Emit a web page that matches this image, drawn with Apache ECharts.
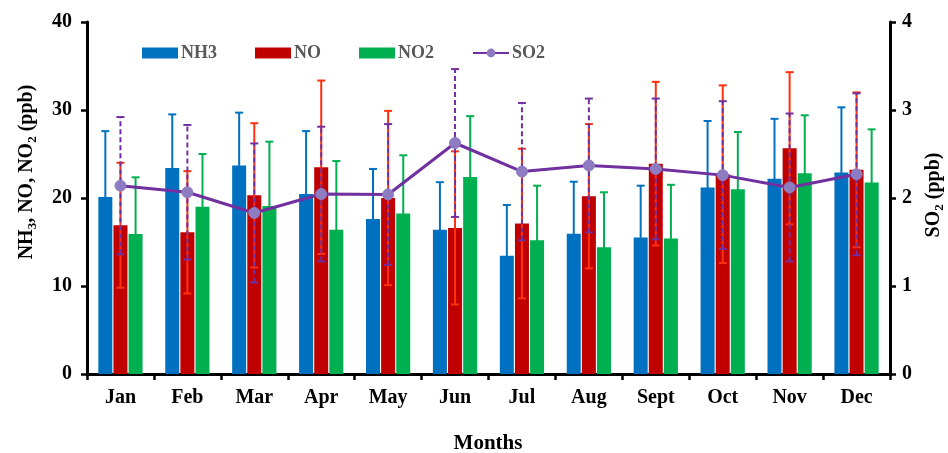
<!DOCTYPE html>
<html>
<head>
<meta charset="utf-8">
<script src="https://cdn.jsdelivr.net/npm/echarts@6/dist/echarts.min.js"></script>
<style>
html,body{margin:0;padding:0;background:#fff;}
#chart{width:948px;height:453px;}
</style>
</head>
<body>
<div id="chart"></div>
<script>
var months = ['Jan','Feb','Mar','Apr','May','Jun','Jul','Aug','Sept','Oct','Nov','Dec'];
var nh3 = [20.1, 23.4, 23.7, 20.45, 17.6, 16.4, 13.45, 15.95, 15.5, 21.2, 22.2, 22.9];
var nh3Sd = [7.5, 6.1, 6.0, 7.15, 5.7, 5.4, 5.75, 5.9, 5.9, 7.55, 6.8, 7.4];
var no = [16.9, 16.1, 20.3, 23.5, 20.0, 16.6, 17.1, 20.2, 23.9, 22.7, 25.65, 23.2];
var noSd = [7.1, 6.95, 8.2, 9.85, 9.9, 8.7, 8.5, 8.2, 9.3, 10.1, 8.65, 8.8];
var no2 = [15.9, 19.0, 19.1, 16.4, 18.25, 22.4, 15.2, 14.4, 15.4, 21.0, 22.8, 21.75];
var no2Sd = [6.45, 6.0, 7.3, 7.8, 6.6, 6.9, 6.2, 6.25, 6.1, 6.5, 6.6, 6.05];
var so2 = [2.14, 2.065, 1.83, 2.045, 2.04, 2.625, 2.30, 2.37, 2.33, 2.26, 2.12, 2.27];
var so2Sd = [0.78, 0.765, 0.79, 0.765, 0.8, 0.84, 0.78, 0.76, 0.8, 0.84, 0.84, 0.92];
var leftTicks = [0, 10, 20, 30, 40];
var rightTicks = [0, 1, 2, 3, 4];

var FONT = '"Liberation Serif", "Times New Roman", serif';
var BAR_W = 14, GAP = 1.12;

function errSeries(name, means, sds, offset, color, yIdx, dashed) {
  return {
    type: 'custom',
    name: name + ' err',
    yAxisIndex: yIdx,
    z: dashed ? 12 : 10,
    silent: true,
    encode: {x: 0, y: [1, 2]},
    data: means.map(function (m, i) { return [i, m - sds[i], m + sds[i]]; }),
    renderItem: function (params, api) {
      var c = api.value(0);
      var x = api.coord([c, 0])[0] + offset;
      var lo = api.coord([c, api.value(1)])[1];
      var hi = api.coord([c, api.value(2)])[1];
      var cw = 4;
      var st = {stroke: color, lineWidth: 2};
      return {
        type: 'group',
        children: [
          {type: 'line', shape: {x1: x, y1: lo, x2: x, y2: hi},
           style: {stroke: color, lineWidth: 2, lineDash: dashed ? [5, 3] : null}},
          {type: 'line', shape: {x1: x - cw, y1: hi, x2: x + cw, y2: hi}, style: st},
          {type: 'line', shape: {x1: x - cw, y1: lo, x2: x + cw, y2: lo}, style: st}
        ]
      };
    }
  };
}

var chart = echarts.init(document.getElementById('chart'));
var option = {
  animation: false,
  backgroundColor: '#fff',
  textStyle: {fontFamily: FONT},
  grid: {left: 87, right: 58, top: 22, bottom: 79, containLabel: false},
  legend: {
    data: [{name: 'NH3', icon: 'rect'}, {name: 'NO', icon: 'rect'}, {name: 'NO2', icon: 'rect'}, {name: 'SO2'}],
    left: 137, top: 39,
    itemWidth: 36, itemHeight: 11, itemGap: 38,
    textStyle: {fontFamily: FONT, fontSize: 18, fontWeight: 'bold', color: '#595959', padding: [0, 0, 0, -2]}
  },
  xAxis: {
    type: 'category',
    data: months,
    boundaryGap: true,
    axisLine: {lineStyle: {color: '#000', width: 3}},
    axisTick: {show: true, length: 6, lineStyle: {color: '#000', width: 2.5}},
    axisLabel: {color: '#000', fontSize: 20, fontWeight: 'bold', fontFamily: FONT, margin: 14, interval: 0},
    splitLine: {show: false}
  },
  yAxis: [{
    type: 'value', min: leftTicks[0], max: leftTicks[leftTicks.length - 1], interval: 10,
    axisLine: {show: true, lineStyle: {color: '#000', width: 3}},
    axisTick: {show: true, length: 6, lineStyle: {color: '#000', width: 2.5}},
    axisLabel: {color: '#000', fontSize: 20, fontWeight: 'bold', fontFamily: FONT, margin: 15},
    splitLine: {show: false}
  }, {
    type: 'value', min: rightTicks[0], max: rightTicks[rightTicks.length - 1], interval: 1,
    position: 'right',
    axisLine: {show: true, lineStyle: {color: '#000', width: 3}},
    axisTick: {show: true, length: 6, lineStyle: {color: '#000', width: 2.5}},
    axisLabel: {color: '#000', fontSize: 20, fontWeight: 'bold', fontFamily: FONT, margin: 12},
    splitLine: {show: false}
  }],
  graphic: [
    {type: 'text', x: 27, y: 172, rotation: Math.PI / 2,
     style: {
       text: '{a|NH}{s|3}{a|, NO, NO}{s|2}{a| (ppb)}',
       align: 'center', verticalAlign: 'middle',
       rich: {
         a: {fontFamily: FONT, fontSize: 20, fontWeight: 'bold', fill: '#000', lineHeight: 24},
         s: {fontFamily: FONT, fontSize: 13, fontWeight: 'bold', fill: '#000', lineHeight: 14, verticalAlign: 'bottom'}
       }
     }},
    {type: 'text', x: 934, y: 195, rotation: Math.PI / 2,
     style: {
       text: '{a|SO}{s|2}{a| (ppb)}',
       align: 'center', verticalAlign: 'middle',
       rich: {
         a: {fontFamily: FONT, fontSize: 20, fontWeight: 'bold', fill: '#000', lineHeight: 24},
         s: {fontFamily: FONT, fontSize: 13, fontWeight: 'bold', fill: '#000', lineHeight: 14, verticalAlign: 'bottom'}
       }
     }},
    {type: 'text', x: 488, y: 444,
     style: {text: 'Months', fontFamily: FONT, fontSize: 21, fontWeight: 'bold', fill: '#000', align: 'center', verticalAlign: 'middle'}}
  ],
  series: [
    {type: 'bar', name: 'NH3', data: nh3, barWidth: BAR_W, barGap: '8%', itemStyle: {color: '#0070C0'}, z: 2},
    {type: 'bar', name: 'NO', data: no, barWidth: BAR_W, barGap: '8%', itemStyle: {color: '#C00000'}, z: 2},
    {type: 'bar', name: 'NO2', data: no2, barWidth: BAR_W, barGap: '8%', itemStyle: {color: '#00B050'}, z: 2},
    errSeries('NH3', nh3, nh3Sd, -(BAR_W + GAP), '#0070C0', 0, false),
    errSeries('NO', no, noSd, 0, '#FF3010', 0, false),
    errSeries('NO2', no2, no2Sd, (BAR_W + GAP), '#00B050', 0, false),
    errSeries('SO2', so2, so2Sd, 0, '#7030A0', 1, true),
    {type: 'line', name: 'SO2', data: so2, yAxisIndex: 1, z: 15,
     lineStyle: {color: '#7030A0', width: 3},
     itemStyle: {color: '#8E7CC3', borderColor: '#8E7CC3'},
     symbol: 'circle', symbolSize: 11, showSymbol: true}
  ]
};
chart.setOption(option);
</script>
</body>
</html>
